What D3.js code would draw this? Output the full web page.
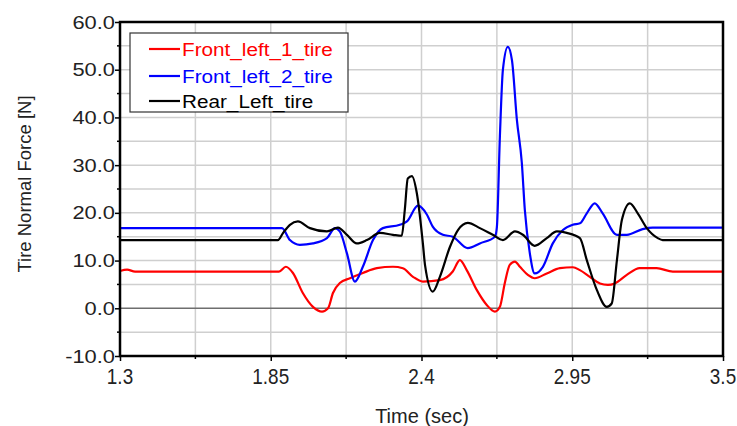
<!DOCTYPE html>
<html>
<head>
<meta charset="utf-8">
<script src="https://cdn.jsdelivr.net/npm/d3@7"></script>
<style>
  body { margin: 0; background: #fff; }
  svg { display: block; }
  text { font-family: "Liberation Sans", Arial, sans-serif; }
</style>
</head>
<body>
<div id="chart"></div>
<script>
// series names and colours
const seriesNames = ['Front_left_1_tire', 'Front_left_2_tire', 'Rear_Left_tire'];
const seriesColors = ['#ff0000', '#0000ff', '#000000'];

// Front_left_1_tire (red)
const frontLeft1Time = [1.300, 1.326, 1.355, 1.880, 1.905, 1.931, 1.967, 2.004, 2.037, 2.059, 2.077, 2.102,
  2.139, 2.186, 2.237, 2.296, 2.332, 2.369, 2.405, 2.467, 2.514, 2.540, 2.565, 2.602, 2.638, 2.668, 2.686,
  2.704, 2.722, 2.741, 2.759, 2.788, 2.813, 2.857, 2.905, 2.952, 2.978, 3.014, 3.051, 3.080, 3.105, 3.149,
  3.196, 3.258, 3.317, 3.500];
const frontLeft1Force = [7.8, 8.1, 7.7, 7.7, 8.7, 7.4, 3.2, 0.3, -0.7, 0.0, 3.2, 5.3,
  6.3, 7.4, 8.4, 8.7, 8.4, 6.6, 5.6, 5.9, 7.7, 10.1, 8.0, 3.8, 0.7, -0.7, 0.3,
  5.3, 9.1, 9.8, 8.7, 7.0, 6.3, 7.3, 8.4, 8.6, 8.0, 6.6, 5.2, 4.9, 5.2, 7.0,
  8.4, 8.4, 7.7, 7.7];

// Front_left_2_tire (blue)
const frontLeft2Time = [1.300, 1.891, 1.920, 1.956, 2.004, 2.055, 2.084, 2.102, 2.128, 2.157, 2.186, 2.223,
  2.259, 2.321, 2.347, 2.387, 2.420, 2.441, 2.478, 2.514, 2.569, 2.613, 2.668, 2.675, 2.686, 2.697, 2.715,
  2.730, 2.748, 2.766, 2.777, 2.795, 2.813, 2.843, 2.879, 2.916, 2.952, 2.978, 3.003, 3.032, 3.061, 3.113,
  3.149, 3.207, 3.244, 3.500];
const frontLeft2Force = [16.8, 16.8, 14.3, 13.3, 13.6, 14.7, 16.8, 16.1, 11.5, 5.6, 8.7, 14.3,
  16.8, 17.5, 18.2, 21.5, 19.6, 17.1, 15.4, 15.0, 12.6, 13.6, 15.0, 17.0, 36.0, 50.0, 54.8,
  52.0, 39.5, 30.5, 20.6, 11.6, 7.3, 8.7, 13.6, 16.4, 17.5, 17.8, 19.9, 22.0, 19.9, 15.4,
  15.4, 16.6, 16.9, 16.9];

// Rear_Left_tire (black)
const rearLeftTime = [1.300, 1.876, 1.894, 1.920, 1.949, 1.993, 2.055, 2.095, 2.128, 2.164, 2.201, 2.248,
  2.296, 2.328, 2.339, 2.350, 2.365, 2.383, 2.405, 2.413, 2.441, 2.467, 2.504, 2.533, 2.569, 2.613, 2.660,
  2.697, 2.741, 2.770, 2.813, 2.857, 2.894, 2.930, 2.978, 3.003, 3.040, 3.076, 3.094, 3.113, 3.131, 3.160,
  3.189, 3.222, 3.262, 3.280, 3.500];
const rearLeftForce = [14.3, 14.3, 15.7, 17.5, 18.2, 16.8, 16.1, 16.9, 15.4, 13.6, 14.3, 15.8,
  15.4, 15.2, 20.6, 27.2, 27.7, 24.1, 13.6, 9.0, 3.5, 6.6, 12.9, 16.4, 17.9, 16.8, 15.4,
  14.3, 16.1, 15.4, 13.1, 14.7, 16.1, 15.8, 14.7, 10.1, 3.8, 0.3, 1.0, 10.1, 18.5, 22.0,
  19.9, 16.8, 14.7, 14.3, 14.3];

// axis ticks
const xTicks = [1.3, 1.85, 2.4, 2.95, 3.5];
const yTicks = [-10, 0, 10, 20, 30, 40, 50, 60];

const W = 737, H = 426;
const plotLeft = 120, plotRight = 723, plotTop = 22, plotBottom = 356;

const svg = d3.select('#chart').append('svg')
  .attr('width', W)
  .attr('height', H);

const x = d3.scaleLinear().domain([1.3, 3.5]).range([plotLeft, plotRight]);
const y = d3.scaleLinear().domain([-10, 60]).range([plotBottom, plotTop]);

// minor grid positions (half steps)
const xGrid = d3.range(0, 9).map(i => 1.3 + i * 0.275);
const yGrid = d3.range(-10, 61, 5);

svg.append('g').selectAll('line')
  .data(xGrid.slice(1, -1))
  .enter().append('line')
  .attr('x1', d => x(d)).attr('x2', d => x(d))
  .attr('y1', plotTop).attr('y2', plotBottom)
  .attr('stroke', '#cfcfcf')
  .attr('stroke-width', 1.5);

svg.append('g').selectAll('line')
  .data(yGrid.slice(1, -1))
  .enter().append('line')
  .attr('x1', plotLeft).attr('x2', plotRight)
  .attr('y1', d => y(d)).attr('y2', d => y(d))
  .attr('stroke', d => d === 0 ? '#6e6e6e' : '#cfcfcf')
  .attr('stroke-width', d => d === 0 ? 1.6 : 1.5);

// axes
const yAxis = d3.axisLeft(y).tickValues(yTicks).tickSize(5);
const gy = svg.append('g').attr('transform', `translate(${plotLeft},0)`).call(yAxis);
gy.select('.domain').remove();
gy.selectAll('.tick line').attr('stroke', '#000').attr('stroke-width', 1.5);
gy.selectAll('.tick text').remove();

const xAxis = d3.axisBottom(x).tickValues(xTicks).tickSize(5);
const gx = svg.append('g').attr('transform', `translate(0,${plotBottom})`).call(xAxis);
gx.select('.domain').remove();
gx.selectAll('.tick line').attr('stroke', '#000').attr('stroke-width', 1.5);
gx.selectAll('.tick text').remove();

// minor ticks
svg.append('g').selectAll('line')
  .data(yGrid.filter(d => d % 10 !== 0))
  .enter().append('line')
  .attr('x1', plotLeft - 3).attr('x2', plotLeft)
  .attr('y1', d => y(d)).attr('y2', d => y(d))
  .attr('stroke', '#000').attr('stroke-width', 1.5);

svg.append('g').selectAll('line')
  .data(xGrid.filter((d, i) => i % 2 === 1))
  .enter().append('line')
  .attr('x1', d => x(d)).attr('x2', d => x(d))
  .attr('y1', plotBottom).attr('y2', plotBottom + 3)
  .attr('stroke', '#000').attr('stroke-width', 1.5);

// tick labels (stretched to look like the original)
svg.append('g').selectAll('text')
  .data(yTicks)
  .enter().append('text')
  .attr('transform', d => `translate(115,${y(d) + 6.5}) scale(1.25,1)`)
  .attr('text-anchor', 'end')
  .attr('font-size', 17.5)
  .attr('fill', '#222')
  .text(d => d.toFixed(1));

svg.append('g').selectAll('text')
  .data(xTicks)
  .enter().append('text')
  .attr('transform', d => `translate(${x(d)},384) scale(0.88,1)`)
  .attr('text-anchor', 'middle')
  .attr('font-size', 21.5)
  .attr('fill', '#222')
  .text(d => d);

// series lines
const allTimes = [frontLeft1Time, frontLeft2Time, rearLeftTime];
const allForces = [frontLeft1Force, frontLeft2Force, rearLeftForce];

const line = d3.line()
  .x(d => x(d[0]))
  .y(d => y(d[1]))
  .curve(d3.curveMonotoneX);

svg.append('g').selectAll('path')
  .data(allTimes.map((ts, i) => ts.map((t, j) => [t, allForces[i][j]])))
  .enter().append('path')
  .attr('d', line)
  .attr('fill', 'none')
  .attr('stroke', (d, i) => seriesColors[i])
  .attr('stroke-width', 2.2);

// frame
svg.append('rect')
  .attr('x', plotLeft).attr('y', plotTop)
  .attr('width', plotRight - plotLeft).attr('height', plotBottom - plotTop)
  .attr('fill', 'none')
  .attr('stroke', '#000')
  .attr('stroke-width', 2.5);

// legend
const legend = svg.append('g');
legend.append('rect')
  .attr('x', 130).attr('y', 33)
  .attr('width', 218).attr('height', 79)
  .attr('fill', '#fff')
  .attr('stroke', '#333')
  .attr('stroke-width', 1.2);

const legendRows = [49, 76, 101];
seriesNames.forEach((name, i) => {
  legend.append('line')
    .attr('x1', 149).attr('x2', 180)
    .attr('y1', legendRows[i]).attr('y2', legendRows[i])
    .attr('stroke', seriesColors[i])
    .attr('stroke-width', 2.2);
  legend.append('text')
    .attr('transform', `translate(182,${legendRows[i] + 6.5}) scale(1.12,1)`)
    .attr('font-size', 18.5)
    .attr('fill', seriesColors[i])
    .text(name);
});

// axis titles
svg.append('text')
  .attr('x', 422).attr('y', 423)
  .attr('text-anchor', 'middle')
  .attr('font-size', 20)
  .attr('fill', '#222')
  .text('Time (sec)');

svg.append('text')
  .attr('transform', 'translate(31,184) rotate(-90)')
  .attr('text-anchor', 'middle')
  .attr('font-size', 18.5)
  .attr('fill', '#222')
  .text('Tire Normal Force [N]');
</script>
</body>
</html>
